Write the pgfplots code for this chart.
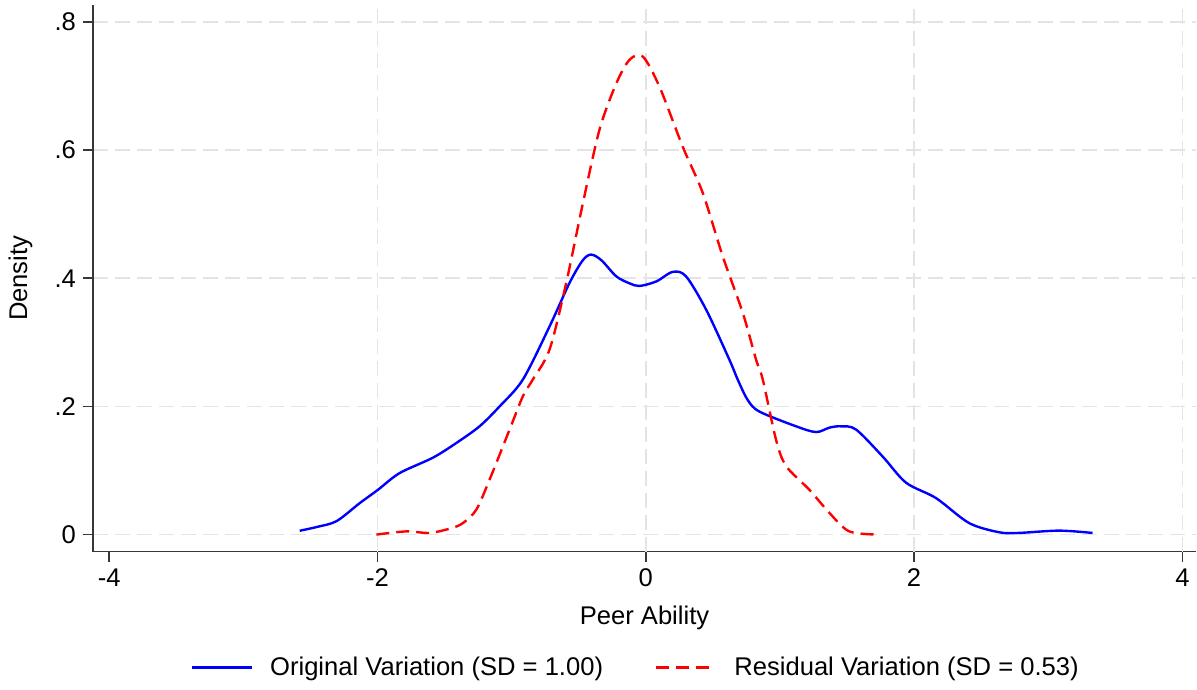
\documentclass[border=0pt]{standalone}
\usepackage{fontspec}
\setmainfont{Liberation Sans}
\usepackage{pgfplots}
\pgfplotsset{compat=1.18}
\definecolor{gridgray}{RGB}{228,228,228}
\definecolor{axisgray}{RGB}{55,55,55}
\pgfplotstableread{
x y
-2.58 0.006
-2.45 0.012
-2.305 0.021
-2.133 0.049
-1.996 0.070
-1.835 0.096
-1.587 0.120
-1.412 0.143
-1.239 0.169
-1.090 0.200
-0.916 0.242
-0.717 0.325
-0.568 0.393
-0.47 0.428
-0.407 0.437
-0.33 0.428
-0.220 0.403
-0.12 0.392
-0.047 0.388
0.077 0.395
0.201 0.410
0.30 0.403
0.45 0.351
0.623 0.273
0.685 0.242
0.76 0.21
0.847 0.192
1.12 0.169
1.269 0.160
1.37 0.167
1.455 0.169
1.567 0.164
1.765 0.122
1.94 0.081
2.163 0.057
2.41 0.018
2.635 0.0036
2.78 0.0026
3.08 0.0062
3.33 0.0026
}\original
\pgfplotstableread{
x y
-2.008 0.0
-1.785 0.005
-1.611 0.0026
-1.45 0.01
-1.363 0.018
-1.263 0.039
-1.164 0.086
-1.015 0.164
-0.916 0.216
-0.842 0.242
-0.717 0.289
-0.593 0.393
-0.469 0.517
-0.345 0.632
-0.220 0.704
-0.121 0.741
-0.022 0.746
0.102 0.699
0.276 0.605
0.425 0.533
0.574 0.434
0.723 0.346
0.822 0.273
0.872 0.242
0.971 0.148
1.046 0.107
1.219 0.070
1.368 0.034
1.517 0.005
1.74 0.0
}\residual
\begin{document}
\begin{tikzpicture}
\begin{axis}[
  scale only axis,
  width=552pt, height=273.5pt,
  xmin=-4.121, xmax=4.102,
  ymin=-0.0265, ymax=0.8265,
  axis x line*=bottom, axis y line*=left,
  axis line style={axisgray, line width=0.9pt},
  every tick/.style={axisgray, line width=0.9pt},
  tick align=outside,
  major tick length=5pt,
  xtick={-4,-2,0,2,4},
  xticklabels={-4,-2,0,2,4},
  ytick={0,0.2,0.4,0.6,0.8},
  yticklabels={0,.2,.4,.6,.8},
  ymajorgrids=true,
  extra x ticks={-2,0,2,4},
  extra x tick labels={},
  extra x tick style={xmajorgrids=true, major tick length=0pt},
  grid style={gridgray, line width=0.9pt, dash pattern=on 7.5pt off 3.5pt},
  font=\fontsize{12.8}{15}\selectfont,
  tick label style={font=\fontsize{12.8}{15}\selectfont},
  /pgf/number format/assume math mode=true,
  xlabel={Peer Ability},
  ylabel={Density},
  label style={font=\fontsize{12.8}{15}\selectfont},
  x label style={yshift=2pt},
  y label style={at={(axis description cs:-0.0485,0.5)}, anchor=south, rotate=0},
  legend columns=2,
  legend style={at={(0.493,-0.212)}, anchor=center, draw=none, fill=none,
    font=\fontsize{12.8}{15}\selectfont,
    /tikz/every even column/.append style={column sep=24pt}},
  legend image code/.code={\draw[#1] (0pt,0pt) -- (30pt,0pt); \path (36.5pt,0pt);},
]
\addplot[blue, line width=1.2pt, smooth] table[x=x,y=y] {\original};
\addlegendentry{Original Variation (SD = 1.00)}
\addplot[red, line width=1.2pt, smooth, dash pattern=on 6.5pt off 3.5pt] table[x=x,y=y] {\residual};
\addlegendentry{Residual Variation (SD = 0.53)}
\end{axis}
\path[use as bounding box] (-46.5pt,-69pt) rectangle (552pt,276pt);
\end{tikzpicture}
\end{document}
